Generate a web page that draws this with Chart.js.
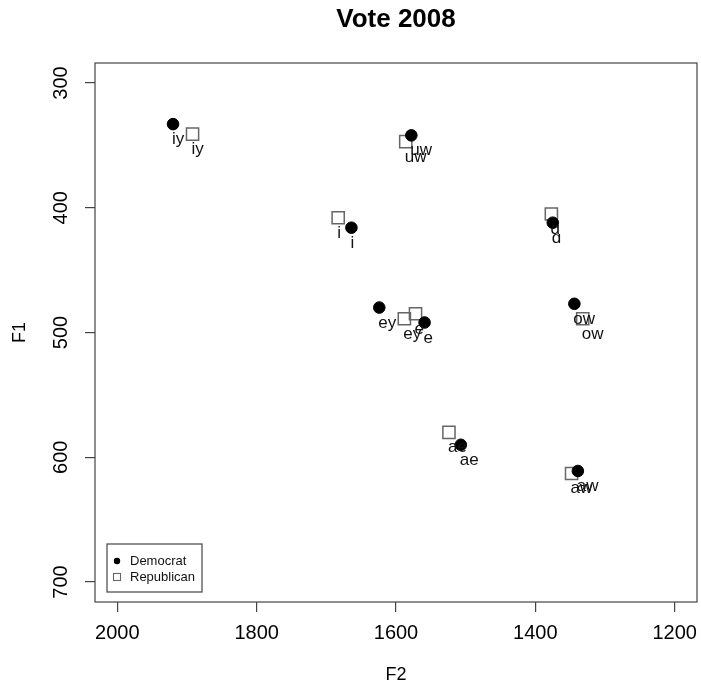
<!DOCTYPE html>
<html>
<head>
<meta charset="utf-8">
<script src="https://cdn.jsdelivr.net/npm/chart.js@4"></script>
<style>
html,body{margin:0;padding:0;background:#fff;}
#wrap{width:701px;height:688px;position:relative;}
</style>
</head>
<body>
<div id="wrap"><canvas id="c" width="701" height="688"></canvas></div>
<script>
const chartTitle = "Vote 2008";
const vowels = ["iy", "i", "ey", "e", "ae", "ɑ", "aw", "ow", "uw"];
const demF2 = [1920, 1664, 1624, 1559, 1507, 1375, 1339, 1344, 1578];
const demF1 = [333, 416, 480, 492, 590, 412, 611, 477, 342];
const repF2 = [1892, 1683, 1588, 1572, 1524, 1377, 1348, 1332, 1586];
const repF1 = [341, 408, 489, 485, 580, 405, 613, 489, 347];
const seriesNames = ["Democrat", "Republican"];
const xTicks = [1200, 1400, 1600, 1800, 2000];
const yTicks = [300, 400, 500, 600, 700];

const FAM = '"Liberation Sans", Arial, Helvetica, sans-serif';

function pts(xs, ys) { return xs.map((x, i) => ({x: x, y: ys[i]})); }

const framePlugin = {
  id: 'frame',
  beforeDatasetsDraw(chart) {
    const a = chart.chartArea, ctx = chart.ctx;
    ctx.save();
    ctx.strokeStyle = '#444';
    ctx.lineWidth = 1.2;
    ctx.strokeRect(a.left, a.top, a.right - a.left, a.bottom - a.top);
    ctx.restore();
  },
  afterDatasetsDraw(chart) {
    const ctx = chart.ctx, xs = chart.scales.x, ys = chart.scales.y;
    ctx.save();
    ctx.font = '17px ' + FAM;
    ctx.fillStyle = '#111';
    ctx.textAlign = 'left';
    ctx.textBaseline = 'alphabetic';
    const sets = [[demF2, demF1], [repF2, repF1]];
    sets.forEach(([fx, fy]) => {
      vowels.forEach((v, i) => {
        const px = xs.getPixelForValue(fx[i]) - 1;
        const py = ys.getPixelForValue(fy[i]) + 20;
        ctx.fillText(v, px, py);
      });
    });
    ctx.restore();
  },
  afterDraw(chart) {
    const ctx = chart.ctx, a = chart.chartArea;
    ctx.save();
    ctx.font = 'bold 26px ' + FAM;
    ctx.fillStyle = '#000';
    ctx.textAlign = 'center';
    ctx.textBaseline = 'middle';
    ctx.fillText(chartTitle, (a.left + a.right) / 2, 20);
    const lx = a.left + 12, ly = a.bottom - 58, lw = 95, lh = 48;
    ctx.strokeStyle = '#444';
    ctx.lineWidth = 1.2;
    ctx.strokeRect(lx, ly, lw, lh);
    ctx.fillStyle = '#000';
    ctx.beginPath();
    ctx.arc(lx + 10, ly + 17, 3.2, 0, Math.PI * 2);
    ctx.fill();
    ctx.strokeStyle = '#666';
    ctx.lineWidth = 1.1;
    ctx.strokeRect(lx + 6.5, ly + 29.5, 7, 7);
    ctx.font = '13px ' + FAM;
    ctx.textAlign = 'left';
    ctx.textBaseline = 'middle';
    ctx.fillStyle = '#111';
    ctx.fillText(seriesNames[0], lx + 23, ly + 17);
    ctx.fillText(seriesNames[1], lx + 23, ly + 33);
    ctx.restore();
  }
};

new Chart(document.getElementById('c'), {
  type: 'scatter',
  data: {
    datasets: [
      {
        label: seriesNames[0],
        data: pts(demF2, demF1),
        pointStyle: 'circle',
        pointRadius: 5.8,
        pointBorderWidth: 1,
        backgroundColor: '#000',
        borderColor: '#000'
      },
      {
        label: seriesNames[1],
        data: pts(repF2, repF1),
        pointStyle: 'rect',
        pointRadius: 8.6,
        pointBorderWidth: 1.5,
        backgroundColor: 'rgba(0,0,0,0)',
        borderColor: '#666'
      }
    ]
  },
  options: {
    responsive: false,
    animation: false,
    events: [],
    layout: {autoPadding: false, padding: {top: 63, right: 4, bottom: 0, left: 0}},
    plugins: {
      legend: {display: false},
      title: {display: false},
      tooltip: {enabled: false}
    },
    scales: {
      x: {
        type: 'linear',
        reverse: true,
        min: 1168,
        max: 2032,
        afterBuildTicks: s => { s.ticks = xTicks.map(v => ({value: v})); },
        afterFit: s => { s.height = 86; s.paddingLeft = 0; s.paddingRight = 0; },
        ticks: {
          autoSkip: false, maxRotation: 0, minRotation: 0, padding: 0,
          color: '#000', font: {size: 20, family: FAM, lineHeight: 2.1},
          callback: v => String(v)
        },
        grid: {drawOnChartArea: false, drawTicks: true, tickLength: 10, color: '#444', lineWidth: 1.2},
        border: {display: false},
        title: {display: true, text: 'F2', color: '#000', font: {size: 18, family: FAM}, padding: {top: 0, bottom: 2}}
      },
      y: {
        type: 'linear',
        reverse: true,
        min: 284,
        max: 716,
        afterBuildTicks: s => { s.ticks = yTicks.map(v => ({value: v})); },
        afterFit: s => { s.width = 95; s.paddingTop = 0; s.paddingBottom = 0; },
        ticks: {
          autoSkip: false, minRotation: 90, maxRotation: 90, crossAlign: 'center', padding: 7,
          color: '#000', font: {size: 20, family: FAM},
          callback: v => String(v)
        },
        grid: {drawOnChartArea: false, drawTicks: true, tickLength: 10, color: '#444', lineWidth: 1.2},
        border: {display: false},
        title: {display: true, text: 'F1', color: '#000', font: {size: 18, family: FAM}, padding: {top: 9, bottom: 0}}
      }
    }
  },
  plugins: [framePlugin]
});
</script>
</body>
</html>
